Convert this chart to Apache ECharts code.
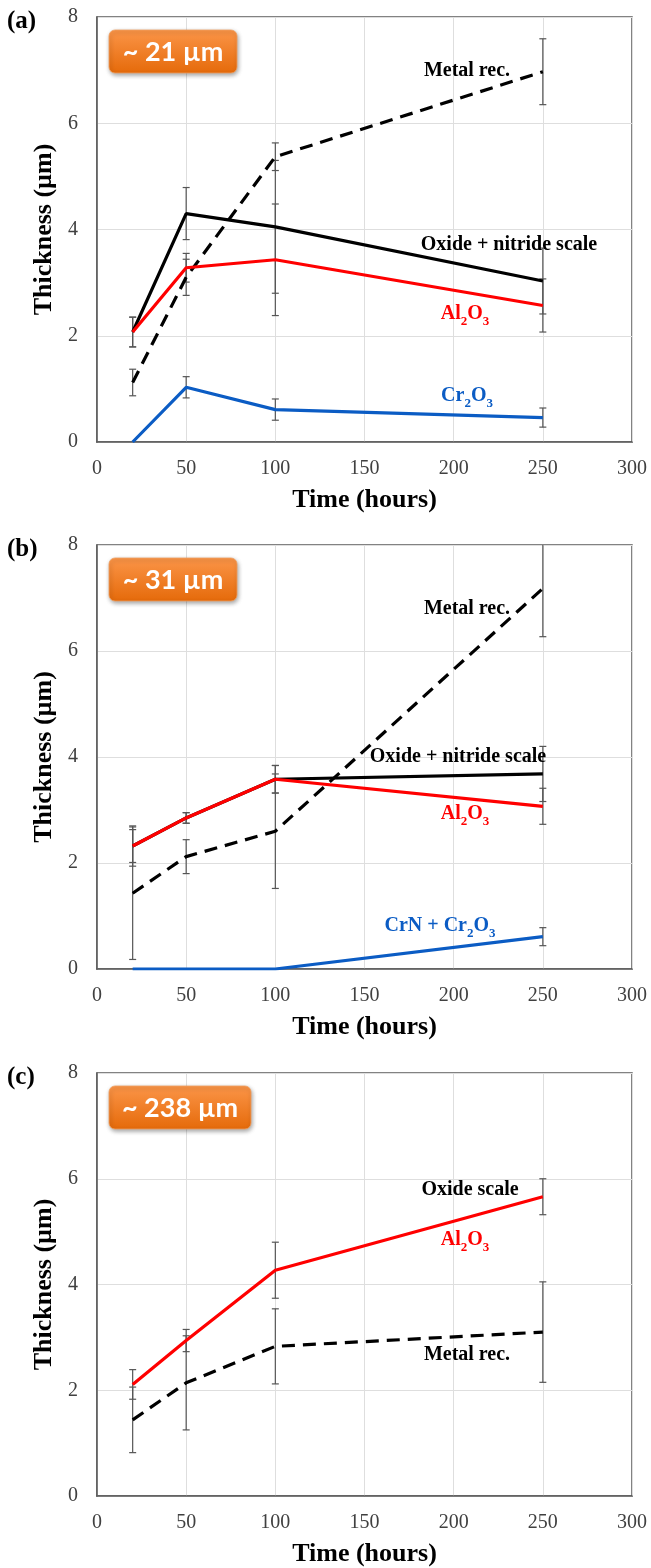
<!DOCTYPE html>
<html><head><meta charset="utf-8">
<script src="https://cdn.jsdelivr.net/npm/echarts@6/dist/echarts.min.js"></script>
<style>html,body{margin:0;padding:0;background:#fff}#c{width:651px;height:1568px}</style>
</head><body><div id="c"></div>
<script>
// ---------- data ----------
const hours = [20, 50, 100, 250];
const xTicks = [0, 50, 100, 150, 200, 250, 300];
const yTicks = [0, 2, 4, 6, 8];

// Panel (a) ~21 µm
const aMetal = [1.12, 3.10, 5.37, 6.97];
const aMetalErr = [0.25, 0.34, 0.26, 0.62];
const aScale = [2.07, 4.30, 4.05, 3.03];
const aScaleErr = [0.28, 0.49, 1.25, 0.62];
const aAl2O3 = [2.07, 3.28, 3.43, 2.57];
const aAl2O3Err = [0.28, 0.27, 1.05, 0.50];
const aCr2O3 = [0.00, 1.03, 0.61, 0.46];
const aCr2O3Err = [0.00, 0.20, 0.20, 0.18];

// Panel (b) ~31 µm
const bMetal = [1.43, 2.12, 2.60, 7.18];
const bMetalErr = [1.25, 0.32, 1.08, 0.91];
const bScale = [2.32, 2.85, 3.58, 3.68];
const bScaleErr = [0.38, 0.10, 0.26, 0.52];
const bAl2O3 = [2.32, 2.85, 3.58, 3.07];
const bAl2O3Err = [0.31, 0.10, 0.26, 0.34];
const bCrN = [0.00, 0.00, 0.00, 0.61];
const bCrNErr = [0.00, 0.00, 0.00, 0.17];

// Panel (c) ~238 µm
const cAl2O3 = [2.11, 2.94, 4.27, 5.66];
const cAl2O3Err = [0.28, 0.21, 0.53, 0.34];
const cMetal = [1.44, 2.14, 2.83, 3.10];
const cMetalErr = [0.62, 0.89, 0.71, 0.95];

const panelTags = ['(a)', '(b)', '(c)'];
const boxTexts = ['~ 21 µm', '~ 31 µm', '~ 238 µm'];

// ---------- styles ----------
const RED = '#ff0000', BLUE = '#0b5cc4', BLACK = '#000000';
const serif = '"Liberation Serif","Times New Roman",serif';
const grids = [
  {left: 97, top: 17, width: 535, height: 425},
  {left: 97, top: 545, width: 535, height: 424},
  {left: 97, top: 1073, width: 535, height: 427}
];

function pts(v){ return hours.map((h,i)=>[h, v[i]]); }
function errPts(v,e){ return hours.map((h,i)=>[h, v[i]-e[i], v[i]+e[i], e[i]]); }

function renderErr(params, api){
  const e = api.value(3);
  if (!e) return null;
  const x = api.value(0);
  const p1 = api.coord([x, api.value(2)]);
  const p2 = api.coord([x, api.value(1)]);
  const c = 3.5;
  const st = {stroke: '#555555', lineWidth: 1.2};
  return {type: 'group', children: [
    {type:'line', shape:{x1:p1[0], y1:p1[1], x2:p2[0], y2:p2[1]}, style: st},
    {type:'line', shape:{x1:p1[0]-c, y1:p1[1], x2:p1[0]+c, y2:p1[1]}, style: st},
    {type:'line', shape:{x1:p2[0]-c, y1:p2[1], x2:p2[0]+c, y2:p2[1]}, style: st}
  ]};
}

const series = [];
function addSeries(g, v, e, color, dashed, z){
  series.push({type:'custom', xAxisIndex:g, yAxisIndex:g, renderItem: renderErr, data: errPts(v,e), clip: true, z: 1, silent: true});
  series.push({type:'line', xAxisIndex:g, yAxisIndex:g, data: pts(v), symbol:'none', z: z,
    lineStyle:{color: color, width: 3.2, type: dashed ? [13, 8] : 'solid'}, silent: true});
}
addSeries(0, aMetal, aMetalErr, BLACK, true, 3);
addSeries(0, aScale, aScaleErr, BLACK, false, 4);
addSeries(0, aAl2O3, aAl2O3Err, RED, false, 5);
addSeries(0, aCr2O3, aCr2O3Err, BLUE, false, 5);
addSeries(1, bMetal, bMetalErr, BLACK, true, 3);
addSeries(1, bScale, bScaleErr, BLACK, false, 4);
addSeries(1, bAl2O3, bAl2O3Err, RED, false, 5);
addSeries(1, bCrN, bCrNErr, BLUE, false, 6);
addSeries(2, cMetal, cMetalErr, BLACK, true, 3);
addSeries(2, cAl2O3, cAl2O3Err, RED, false, 5);

const xAxes = grids.map((g,i)=>({
  gridIndex: i, type: 'value', min: xTicks[0], max: xTicks[xTicks.length-1], interval: 50,
  name: 'Time (hours)', nameLocation: 'middle', nameGap: 45,
  nameTextStyle: {fontFamily: serif, fontWeight: 'bold', fontSize: 26, color: '#000'},
  axisLine: {show: true, lineStyle: {color: '#595959', width: 1.5}},
  axisTick: {show: false},
  axisLabel: {fontFamily: serif, fontSize: 20, color: '#404040', margin: 17},
  splitLine: {show: true, lineStyle: {color: '#dedede', width: 1}}
}));
const yAxes = grids.map((g,i)=>({
  gridIndex: i, type: 'value', min: yTicks[0], max: yTicks[yTicks.length-1], interval: 2,
  name: 'Thickness (µm)', nameLocation: 'middle', nameGap: 34,
  nameTextStyle: {fontFamily: serif, fontWeight: 'bold', fontSize: 26, color: '#000'},
  axisLine: {show: true, lineStyle: {color: '#595959', width: 1.5}},
  axisTick: {show: false},
  axisLabel: {fontFamily: serif, fontSize: 20, color: '#404040', margin: 19},
  splitLine: {show: true, lineStyle: {color: '#dedede', width: 1}}
}));

const graphics = [];
function label(x, y, text, color){
  graphics.push({type:'text', x: x, y: y, z: 20,
    style:{text: text, fill: color, font: 'bold 20px ' + serif, textAlign:'center', textVerticalAlign:'middle'}});
}
function chem(x, y, parts, color){
  const rich = {n:{fontFamily: serif, fontWeight:'bold', fontSize: 20, fill: color, verticalAlign:'top', lineHeight: 24},
                s:{fontFamily: serif, fontWeight:'bold', fontSize: 13, fill: color, verticalAlign:'bottom', lineHeight: 24, padding:[11,0,0,0]}};
  const t = parts.map(p => (p[1] ? '{s|' : '{n|') + p[0] + '}').join('');
  graphics.push({type:'text', x: x, y: y, z: 20,
    style:{text: t, rich: rich, textAlign:'center', textVerticalAlign:'middle'}});
}
grids.forEach((g,i)=>{
  graphics.push({type:'text', x: 7, y: g.top + 5, z: 20,
    style:{text: panelTags[i], font: 'bold 25px ' + serif, fill:'#000', textVerticalAlign:'middle'}});
  graphics.push({type:'rect', x: g.left + 12, y: g.top + 13, z: 15,
    shape:{width: i===2 ? 142 : 128, height: 43, r: 6},
    style:{fill: {type:'linear', x:0, y:0, x2:0, y2:1, colorStops:[{offset:0, color:'#fb9548'},{offset:1, color:'#e56a0a'}]},
      stroke: '#f0a060', lineWidth: 0.8, shadowBlur: 4, shadowOffsetX: 1, shadowOffsetY: 2, shadowColor:'rgba(0,0,0,0.35)'}});
  graphics.push({type:'text', x: g.left + 12 + (i===2 ? 71 : 64), y: g.top + 35, z: 16,
    style:{text: boxTexts[i], font: 'bold 27px Lato, "Open Sans", sans-serif', fill:'#ffffff', textAlign:'center', textVerticalAlign:'middle'}});
});
// panel (a) annotations
label(467, 71, 'Metal rec.', BLACK);
label(509, 245, 'Oxide + nitride scale', BLACK);
chem(465, 316, [['Al',0],['2',1],['O',0],['3',1]], RED);
chem(467, 398, [['Cr',0],['2',1],['O',0],['3',1]], BLUE);
// panel (b)
label(467, 609, 'Metal rec.', BLACK);
label(458, 757, 'Oxide + nitride scale', BLACK);
chem(465, 816, [['Al',0],['2',1],['O',0],['3',1]], RED);
chem(440, 928, [['CrN + Cr',0],['2',1],['O',0],['3',1]], BLUE);
// panel (c)
label(470, 1190, 'Oxide scale', BLACK);
chem(465, 1242, [['Al',0],['2',1],['O',0],['3',1]], RED);
label(467, 1355, 'Metal rec.', BLACK);

const chart = echarts.init(document.getElementById('c'), null, {renderer:'canvas'});
chart.setOption({
  animation: false,
  backgroundColor: '#ffffff',
  grid: grids.map(g => Object.assign({show: true, borderColor: '#595959', borderWidth: 1.5, backgroundColor: 'transparent'}, g)),
  xAxis: xAxes,
  yAxis: yAxes,
  series: series,
  graphic: graphics
});
</script></body></html>
